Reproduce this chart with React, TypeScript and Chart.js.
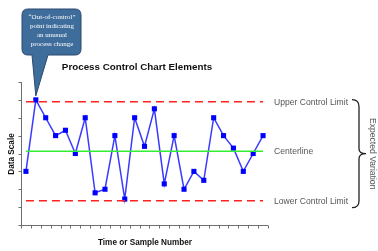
import React, { useEffect, useRef } from "react";
import { Chart, registerables } from "chart.js";

Chart.register(...registerables);

const samples = ["1","2","3","4","5","6","7","8","9","10","11","12","13","14","15","16","17","18","19","20","21","22","23","24","25"];
const measurements = [3, 7, 6, 5, 5.3, 4, 6, 1.8, 2, 5, 1.45, 6, 4.4, 6.5, 2.3, 5, 2, 3, 2.5, 6, 5, 4.3, 3, 4, 5];
const UCL = 6.9;
const CENTER = 4.12;
const LCL = 1.36;
const Y_TICKS = [0, 1, 2, 3, 4, 5, 6, 7, 8];
const CALLOUT_LINES = ["\u201COut-of-control\u201D", "point indicating", "an unusual", "process change"];
const OUTLIER_INDEX = 1;

const SANS = "'Liberation Sans', Arial, sans-serif";
const SERIF = "'Liberation Serif', 'Times New Roman', serif";

const annotations = {
  id: "annotations",
  beforeDatasetsDraw(chart: any) {
    const { ctx, chartArea, scales } = chart;
    const x = scales.x;
    const y = scales.y;
    ctx.save();
    ctx.strokeStyle = "#6e6e6e";
    ctx.lineWidth = 1;
    ctx.beginPath();
    const ax = Math.round(chartArea.left) + 0.5;
    const top = y.getPixelForValue(Y_TICKS[Y_TICKS.length - 1]);
    const bottom = y.getPixelForValue(Y_TICKS[0]);
    ctx.moveTo(ax, top);
    ctx.lineTo(ax, bottom);
    for (const t of Y_TICKS) {
      const py = Math.round(y.getPixelForValue(t)) + 0.5;
      ctx.moveTo(ax - 3, py);
      ctx.lineTo(ax, py);
    }
    const by = Math.round(bottom) + 0.5;
    ctx.moveTo(chartArea.left, by);
    ctx.lineTo(chartArea.right, by);
    const w = x.getPixelForValue(1) - x.getPixelForValue(0);
    for (let i = 0; i <= samples.length; i++) {
      const px = Math.round(x.getPixelForValue(0) - w / 2 + i * w) + 0.5;
      ctx.moveTo(px, by);
      ctx.lineTo(px, by + 3);
    }
    ctx.stroke();
    ctx.restore();
  },
  afterDraw(chart: any) {
    const { ctx, chartArea, scales } = chart;
    const x = scales.x;
    const y = scales.y;
    ctx.save();
    // Title
    ctx.fillStyle = "#111";
    ctx.textAlign = "center";
    ctx.textBaseline = "middle";
    ctx.font = `bold 9.8px ${SANS}`;
    ctx.fillText("Process Control Chart Elements", 137, 67);
    // X axis title
    ctx.font = `bold 8.2px ${SANS}`;
    ctx.fillText("Time or Sample Number", 145, 243);
    // Y axis title
    ctx.save();
    ctx.translate(12, 154);
    ctx.rotate(-Math.PI / 2);
    ctx.fillText("Data Scale", 0, 0);
    ctx.restore();

    // Right labels
    ctx.fillStyle = "#555";
    ctx.textAlign = "left";
    ctx.font = `8.6px ${SANS}`;
    const lx = chartArea.right + 6;
    ctx.fillText("Upper Control Limit", lx, y.getPixelForValue(UCL) + 0.5);
    ctx.fillText("Centerline", lx, y.getPixelForValue(CENTER) + 0.5);
    ctx.fillText("Lower Control Limit", lx, y.getPixelForValue(LCL) + 1);

    // Brace
    const bt = y.getPixelForValue(UCL) - 2;
    const bb = y.getPixelForValue(LCL) + 7;
    const bm = (bt + bb) / 2;
    const x0 = 352, x1 = 359, x2 = 366;
    ctx.strokeStyle = "#222";
    ctx.lineWidth = 1.3;
    ctx.beginPath();
    ctx.moveTo(x0, bt);
    ctx.quadraticCurveTo(x1, bt, x1, bt + 7);
    ctx.lineTo(x1, bm - 5);
    ctx.quadraticCurveTo(x1, bm, x2, bm);
    ctx.quadraticCurveTo(x1, bm, x1, bm + 5);
    ctx.lineTo(x1, bb - 7);
    ctx.quadraticCurveTo(x1, bb, x0, bb);
    ctx.stroke();

    // Expected Variation
    ctx.save();
    ctx.translate(372, bm);
    ctx.rotate(Math.PI / 2);
    ctx.fillStyle = "#555";
    ctx.textAlign = "center";
    ctx.font = `8.6px ${SANS}`;
    ctx.fillText("Expected Variation", 0, 0);
    ctx.restore();

    // Callout
    const tipX = x.getPixelForValue(OUTLIER_INDEX);
    const tipY = y.getPixelForValue(measurements[OUTLIER_INDEX]) - 4;
    const L = 22, T = 9, R = 81, B = 55, r = 6;
    ctx.beginPath();
    ctx.moveTo(L + r, T);
    ctx.lineTo(R - r, T);
    ctx.quadraticCurveTo(R, T, R, T + r);
    ctx.lineTo(R, B - r);
    ctx.quadraticCurveTo(R, B, R - r, B);
    ctx.lineTo(48, B);
    ctx.lineTo(tipX, tipY);
    ctx.lineTo(32, B);
    ctx.lineTo(L + r, B);
    ctx.quadraticCurveTo(L, B, L, B - r);
    ctx.lineTo(L, T + r);
    ctx.quadraticCurveTo(L, T, L + r, T);
    ctx.closePath();
    ctx.fillStyle = "#3e6c9b";
    ctx.fill();
    ctx.strokeStyle = "#2a4b6e";
    ctx.lineWidth = 1;
    ctx.stroke();

    ctx.fillStyle = "#ffffff";
    ctx.textAlign = "center";
    ctx.font = `7px ${SERIF}`;
    const lineYs = [16.7, 25.8, 34.9, 44.0];
    CALLOUT_LINES.forEach((t, i) => ctx.fillText(t, 52, lineYs[i]));
    ctx.restore();
  },
};

export default function App() {
  const ref = useRef<HTMLCanvasElement | null>(null);
  useEffect(() => {
    const canvas = ref.current;
    if (!canvas) return;
    const first = samples[0];
    const last = samples[samples.length - 1];
    const chart = new Chart(canvas, {
      type: "line",
      data: {
        labels: samples,
        datasets: [
          {
            label: "UCL",
            data: [{ x: first, y: UCL }, { x: last, y: UCL }] as any,
            borderColor: "#ff2020",
            borderWidth: 1.5,
            borderDash: [8, 5],
            pointRadius: 0,
          },
          {
            label: "LCL",
            data: [{ x: first, y: LCL }, { x: last, y: LCL }] as any,
            borderColor: "#ff2020",
            borderWidth: 1.5,
            borderDash: [8, 5],
            pointRadius: 0,
          },
          {
            label: "Centerline",
            data: [{ x: first, y: CENTER }, { x: last, y: CENTER }] as any,
            borderColor: "#33ee33",
            borderWidth: 1.5,
            pointRadius: 0,
          },
          {
            label: "Measurements",
            data: measurements,
            borderColor: "#3a3aff",
            borderWidth: 1.5,
            pointStyle: "rect",
            pointRadius: 3.6,
            pointBackgroundColor: "#0000ff",
            pointBorderColor: "#0000ff",
            pointBorderWidth: 0,
            tension: 0,
          },
        ],
      },
      options: {
        responsive: false,
        animation: false,
        devicePixelRatio: 1,
        layout: { padding: { left: 21, right: 110, top: 82, bottom: 26 } },
        plugins: { legend: { display: false }, tooltip: { enabled: false }, title: { display: false } },
        scales: {
          x: { type: "category", offset: true, display: false },
          y: { min: 0, max: 8, display: false },
        },
        events: [],
      },
      plugins: [annotations],
    });
    return () => chart.destroy();
  }, []);
  return (
    <div style={{ position: "absolute", left: 0, top: 0, width: 378, height: 251, background: "#fff" }}>
      <canvas ref={ref} width={378} height={251} />
    </div>
  );
}
